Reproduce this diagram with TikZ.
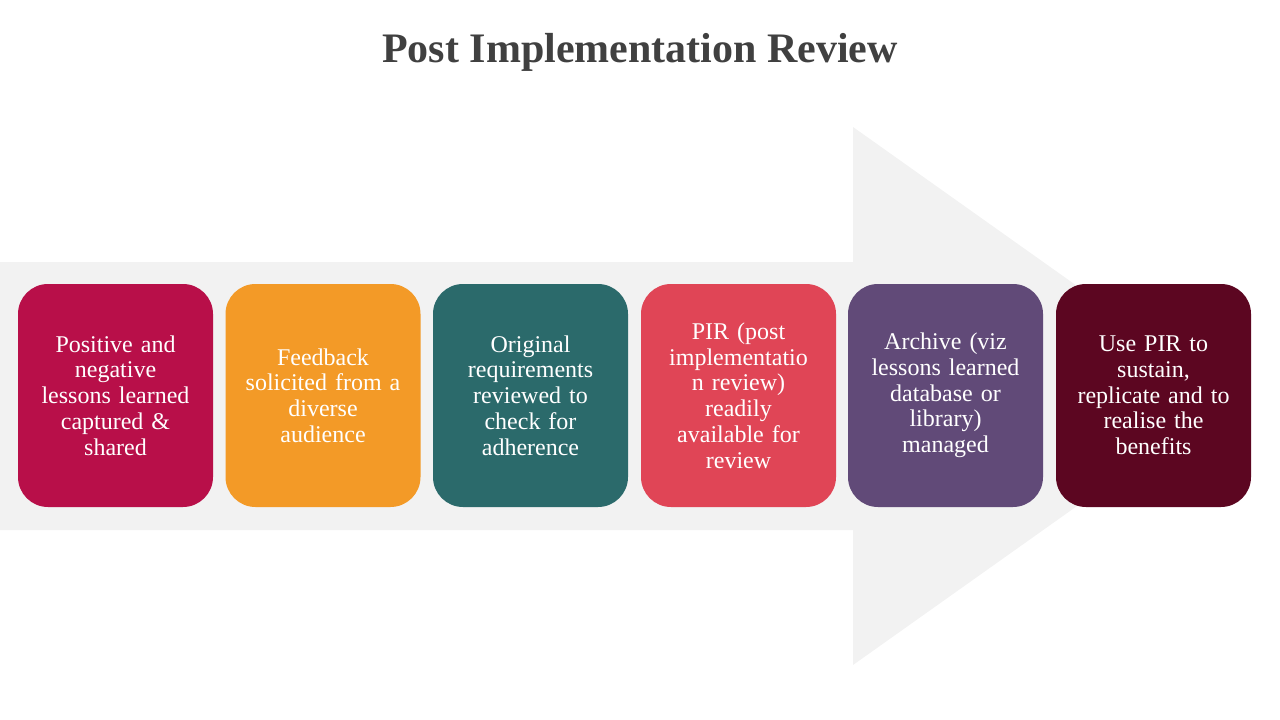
\documentclass[tikz,border=0pt]{standalone}
\usepackage{fontspec}
\setmainfont{Liberation Serif}
\usepackage{xcolor}
\usepackage{tikz}
\usetikzlibrary{positioning}

\definecolor{titlegray}{HTML}{404040}
\definecolor{arrowgray}{HTML}{F2F2F2}
\definecolor{crimson}{HTML}{B80F49}
\definecolor{amber}{HTML}{F39A27}
\definecolor{teal}{HTML}{2B6A6B}
\definecolor{coral}{HTML}{E04556}
\definecolor{plum}{HTML}{614A78}
\definecolor{maroon}{HTML}{5C0621}

\tikzset{
  stage/.style={rounded corners=22.5pt, minimum width=146.25pt, minimum height=167.25pt,
    text width=138pt, align=center, text=white, inner sep=0pt,
    font=\fontsize{18}{19.3}\selectfont}
}

\begin{document}
\begin{tikzpicture}[x=0.75pt, y=-0.75pt]
      \useasboundingbox (0,0) rectangle (1280,720);

      % Title
      \node[anchor=base, text=titlegray, font=\fontsize{31.5}{36}\selectfont\bfseries] (title) at (640,63) {Post Implementation Review};

      % Background arrow
      \fill[arrowgray] (0,262) -- (853,262) -- (853,127) -- (1232,396) -- (853,665) -- (853,530) -- (0,530) -- cycle;

      % Stages
      \node[stage, fill=crimson] (lessons) at (115.5,395.5) {Positive and\\negative\\lessons learned\\captured \&\\shared};
      \node[stage, fill=amber] (feedback) at (323,395.5) {Feedback\\solicited from a\\diverse\\audience};
      \node[stage, fill=teal] (original) at (530.5,395.5) {Original\\requirements\\reviewed to\\check for\\adherence};
      \node[stage, fill=coral] (pir) at (738.5,395.5) {PIR (post\\implementatio\\n review)\\readily\\available for\\review};
      \node[stage, fill=plum] (archive) at (945.5,395.5) {Archive (viz\\lessons learned\\database or\\library)\\managed};
      \node[stage, fill=maroon] (usepir) at (1153.5,395.5) {Use PIR to\\sustain,\\replicate and to\\realise the\\benefits};
    \end{tikzpicture}
\end{document}
